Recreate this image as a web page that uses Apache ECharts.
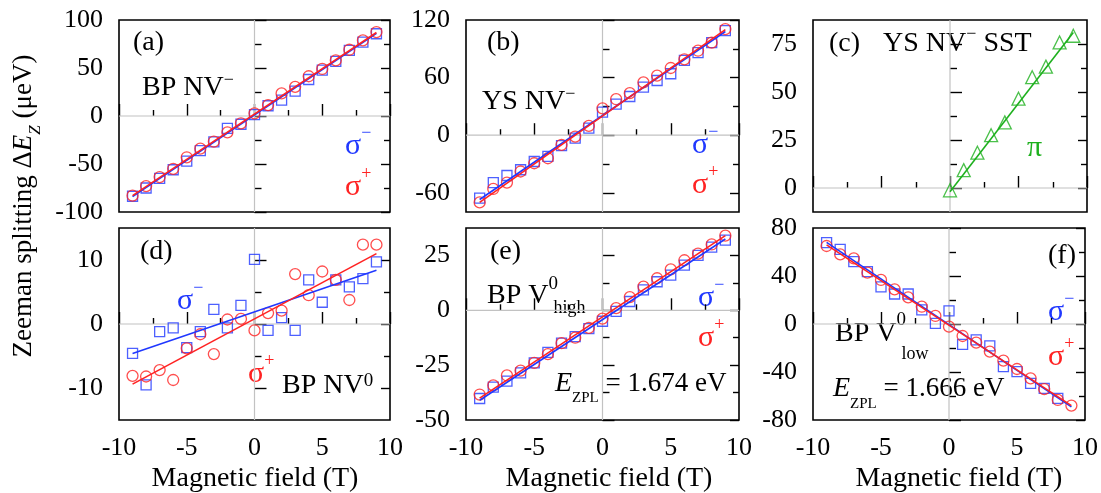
<!DOCTYPE html>
<html>
<head>
<meta charset="utf-8">
<script src="https://cdn.jsdelivr.net/npm/echarts@6/dist/echarts.min.js"></script>
<style>
  html, body { margin: 0; padding: 0; background: #fff; }
  #chart { width: 1101px; height: 493px; }
</style>
</head>
<body>
<div id="chart"></div>
<script>
// Magnetic field values (T)
const fieldT   = [-9, -8, -7, -6, -5, -4, -3, -2, -1, 0, 1, 2, 3, 4, 5, 6, 7, 8, 9];
const fieldTf  = [-9, -8, -7, -6, -5, -4, -3, -2, -1, 0, 1, 2, 3, 4, 5, 6, 7, 8];
const fieldPos = [0, 1, 2, 3, 4, 5, 6, 7, 8, 9];

// (a) BP NV-
const aMinus = [-83.6, -75, -65, -56, -47, -36, -27, -12.8, -8.6, 1.4, 10.7, 16.6, 26, 38, 47.7, 57, 68.4, 77, 85.7];
const aPlus  = [-83, -73, -63.6, -55, -43, -34, -26.6, -17, -7.6, 2.8, 11.4, 23.5, 30.4, 41.4, 49, 58, 69, 78.8, 87.4];
const aFitMinus = [[-9, -84], [9, 86]];
const aFitPlus  = [[-9, -83], [9, 87]];

// (b) YS NV-
const bMinus = [-65.6, -49.3, -42, -36, -27.4, -22, -10.8, -3, 7.3, 24, 32.3, 40.3, 50, 57, 64, 78, 86, 96.5, 109];
const bPlus  = [-70, -56, -49.3, -37.8, -29.2, -24, -10, -1.4, 9.7, 28, 37.5, 43.8, 55, 62, 70, 79, 88, 96.5, 110.5];
const bFitMinus = [[-9, -67], [9, 108]];
const bFitPlus  = [[-9, -70], [9, 110]];

// (c) YS NV- SST, pi line
const cPi = [-1.2, 9.3, 18.4, 27.5, 34.2, 46.5, 57.7, 63.2, 75.8, 79.3];
const cFitPi = [[0, -2], [9, 81]];

// (d) BP NV0
const dMinus = [-4.6, -9.5, -1.2, -0.6, -3.7, -1.2, 2.3, -0.6, 2.9, 10.1, -1.0, 1.0, -1.0, 6.9, 3.4, 6.9, 5.8, 7.1, 9.7];
const dPlus  = [-8.1, -8.2, -7.2, -8.75, -3.8, -1.6, -4.7, 0.7, 0.8, -1.0, 1.7, 2.1, 7.8, 4.5, 8.2, 6.9, 3.75, 12.4, 12.4];
const dFitMinus = [[-9, -4.6], [9, 8.4]];
const dFitPlus  = [[-9, -9.4], [9, 11.0]];

// (e) BP V0 high
const eMinus = [-40.2, -35, -32.3, -28.5, -24, -19.2, -15, -12, -8.4, -5, -0.5, 4, 9.3, 13, 16, 20.6, 25, 28.8, 32];
const ePlus  = [-38.4, -34.2, -29.7, -27.5, -24, -20, -15, -12.5, -8, -3.8, 1, 6, 10.8, 14.6, 18.6, 22.8, 25.8, 30, 34];
const eFitMinus = [[-9, -41], [9, 32.5]];
const eFitPlus  = [[-9, -40], [9, 34]];

// (f) BP V0 low
const fMinus = [67.8, 62.2, 52, 43.6, 31, 25, 25, 11.7, 0.5, 11, -17, -13.3, -18.3, -35.5, -39.7, -49.4, -53.6, -62];
const fPlus  = [65, 58, 54.7, 42.8, 36.7, 28.9, 22.2, 14.4, 6.7, -2.2, -10, -15.5, -23, -30.5, -37.5, -45.3, -54.2, -63.3, -68];
const fFitMinus = [[-9, 68], [9, -69]];
const fFitPlus  = [[-9, 66], [9, -68]];

// Axis ranges and tick positions
const xRange = [-10, 10];
const xMajor = [-10, -5, 0, 5, 10];
const xMinor = [-7.5, -2.5, 2.5, 7.5];
const yRanges = [[-100, 100], [-80, 120], [-12.5, 87.5], [-15, 15], [-50, 37.5], [-80, 80]];
const yMajor  = [[-100, -50, 0, 50, 100], [-60, 0, 60, 120], [0, 25, 50, 75], [-10, 0, 10], [-50, -25, 0, 25], [-80, -40, 0, 40, 80]];
const yMinor  = [[-75, -25, 25, 75], [-30, 30, 90], [12.5, 37.5, 62.5], [-5, 5], [-37.5, -12.5, 12.5], [-60, -20, 20, 60]];

const BLUE = '#2038ff', RED = '#ff2222', GREEN = '#1eb01e', GRAY = '#c2c2c2';
const FONT = '"Liberation Serif", "Times New Roman", serif';

const grids = [
  { left: 119, top: 20,  width: 271, height: 192 },
  { left: 466, top: 20,  width: 273, height: 192 },
  { left: 813, top: 20,  width: 274, height: 192 },
  { left: 119, top: 228, width: 271, height: 192 },
  { left: 466, top: 228, width: 273, height: 192 },
  { left: 813, top: 228, width: 274, height: 192 }
];

const pts = (xs, ys) => xs.map((x, k) => [x, ys[k]]);

const panels = [
  { sets: [ { sym: 'rect', c: BLUE, d: pts(fieldT, aMinus), fit: aFitMinus },
            { sym: 'circle', c: RED, d: pts(fieldT, aPlus), fit: aFitPlus } ] },
  { sets: [ { sym: 'rect', c: BLUE, d: pts(fieldT, bMinus), fit: bFitMinus },
            { sym: 'circle', c: RED, d: pts(fieldT, bPlus), fit: bFitPlus } ] },
  { sets: [ { sym: 'triangle', c: GREEN, d: pts(fieldPos, cPi), fit: cFitPi } ] },
  { sets: [ { sym: 'rect', c: BLUE, d: pts(fieldT, dMinus), fit: dFitMinus },
            { sym: 'circle', c: RED, d: pts(fieldT, dPlus), fit: dFitPlus } ] },
  { sets: [ { sym: 'rect', c: BLUE, d: pts(fieldT, eMinus), fit: eFitMinus },
            { sym: 'circle', c: RED, d: pts(fieldT, ePlus), fit: ePlus && eFitPlus } ] },
  { sets: [ { sym: 'rect', c: BLUE, d: pts(fieldTf, fMinus), fit: fFitMinus },
            { sym: 'circle', c: RED, d: pts(fieldT, fPlus), fit: fFitPlus } ] }
];

const tickStyle = { color: '#000', width: 1.4 };
const labelStyle = { color: '#000', fontFamily: 'Liberation Serif', fontSize: 26 };

const xAxes = [], yAxes = [], series = [];
grids.forEach((g, i) => {
  const bottomRow = i >= 3;
  const [ymin, ymax] = yRanges[i];
  const baseX = { gridIndex: i, type: 'value', min: xRange[0], max: xRange[1], position: 'bottom',
                  axisLine: { show: false }, splitLine: { show: false } };
  xAxes.push(Object.assign({}, baseX, {
    axisTick: { show: true, inside: true, length: 12, customValues: xMajor, lineStyle: tickStyle },
    axisLabel: Object.assign({ show: bottomRow, customValues: xMajor, margin: 15 }, labelStyle)
  }));
  xAxes.push(Object.assign({}, baseX, {
    axisTick: { show: true, inside: true, length: 6, customValues: xMinor, lineStyle: tickStyle },
    axisLabel: { show: false }
  }));
  const baseY = (pos) => ({ gridIndex: i, type: 'value', min: ymin, max: ymax, position: pos, offset: 0,
                            axisLine: { show: false }, splitLine: { show: false } });
  yAxes.push(Object.assign(baseY('left'), {
    axisTick: { show: true, inside: true, length: 12, customValues: yMajor[i], lineStyle: tickStyle },
    axisLabel: Object.assign({ show: true, customValues: yMajor[i], margin: 16 }, labelStyle)
  }));
  yAxes.push(Object.assign(baseY('left'), {
    axisTick: { show: true, inside: true, length: 7, customValues: yMinor[i], lineStyle: tickStyle },
    axisLabel: { show: false }
  }));
  yAxes.push(Object.assign(baseY('right'), {
    axisTick: { show: true, inside: true, length: 9, customValues: yMajor[i], lineStyle: tickStyle },
    axisLabel: { show: false }
  }));
  yAxes.push(Object.assign(baseY('right'), {
    axisTick: { show: true, inside: true, length: 6, customValues: yMinor[i], lineStyle: tickStyle },
    axisLabel: { show: false }
  }));

  const xi = 2 * i, yi = 4 * i;
  // zero reference lines
  series.push({ type: 'line', xAxisIndex: xi, yAxisIndex: yi, data: [[0, ymin], [0, ymax]],
                showSymbol: false, silent: true, z: 1, lineStyle: { color: GRAY, width: 1.2 } });
  series.push({ type: 'line', xAxisIndex: xi, yAxisIndex: yi, data: [[xRange[0], 0], [xRange[1], 0]],
                showSymbol: false, silent: true, z: 1, lineStyle: { color: GRAY, width: 1.2 } });
  const p = panels[i];
  p.sets.forEach((s) => {
    series.push({ type: 'scatter', xAxisIndex: xi, yAxisIndex: yi, data: s.d, z: 3, silent: true,
                  symbol: s.sym, symbolSize: s.sym === 'rect' ? 10 : (s.sym === 'triangle' ? 13 : 11),
                  itemStyle: { color: 'rgba(255,255,255,0)', borderColor: s.c, borderWidth: 1.3 } });
  });
  p.sets.forEach((s) => {
    series.push({ type: 'line', xAxisIndex: xi, yAxisIndex: yi, data: s.fit, z: 4, silent: true,
                  showSymbol: false, lineStyle: { color: s.c, width: 1.6 } });
  });
});

// text helpers
const ctx = document.createElement('canvas').getContext('2d');
function tw(t, s, it) { ctx.font = (it ? 'italic ' : '') + s + 'px ' + FONT; return ctx.measureText(t).width; }
function seq(x, base, parts, color) {
  const out = []; let cx = x;
  parts.forEach((p) => {
    const s = p.s || 28, it = !!p.it;
    const px = cx + (p.dx || 0);
    out.push({ type: 'text', x: px, y: base + (p.dy || 0) - 0.34 * s, silent: true,
               style: { text: p.t, fill: p.c || color || '#000', font: (it ? 'italic ' : '') + s + 'px ' + FONT,
                        textAlign: 'left', verticalAlign: 'middle' } });
    if (!p.stay) cx = px + tw(p.t, s, it);
  });
  return out;
}
function sigma(x, base, sign, c) {
  return seq(x, base, [{ t: 'σ', s: 30 }, { t: sign, s: 18, dy: -17 }], c);
}
function centered(cx, base, t, s) {
  return { type: 'text', x: cx, y: base - 0.34 * s, silent: true,
           style: { text: t, fill: '#000', font: s + 'px ' + FONT, textAlign: 'center', verticalAlign: 'middle' } };
}

const graphics = [].concat(
  // (a)
  seq(133, 52, [{ t: '(a)' }]),
  seq(142, 97, [{ t: 'BP NV' }, { t: '−', s: 18, dy: -11 }]),
  sigma(345, 156, '−', BLUE), sigma(345, 197, '+', RED),
  // (b)
  seq(487, 52, [{ t: '(b)' }]),
  seq(482, 111, [{ t: 'YS NV' }, { t: '−', s: 18, dy: -11 }]),
  sigma(692, 155, '−', BLUE), sigma(692, 195, '+', RED),
  // (c)
  seq(829, 53, [{ t: '(c)' }]),
  seq(883, 53, [{ t: 'YS NV' }, { t: '−', s: 18, dy: -13 }, { t: ' SST' }]),
  seq(1027, 158, [{ t: 'π', s: 30 }], GREEN),
  // (d)
  seq(140, 261, [{ t: '(d)' }]),
  sigma(177, 311, '−', BLUE), sigma(248, 384, '+', RED),
  seq(282, 395, [{ t: 'BP NV' }, { t: '0', s: 19, dy: -8 }]),
  // (e)
  seq(490, 261, [{ t: '(e)' }]),
  seq(487, 305, [{ t: 'BP V' }, { t: '0', s: 19, dy: -15, stay: true }, { t: 'high', s: 18, dy: 9, dx: 5 }]),
  sigma(698, 308, '−', BLUE), sigma(698, 348, '+', RED),
  seq(555, 393, [{ t: 'E', it: true }, { t: 'ZPL', s: 15, dy: 10 }, { t: ' = 1.674 eV', s: 27 }]),
  // (f)
  seq(1048, 265, [{ t: '(f)' }]),
  seq(835, 343, [{ t: 'BP V' }, { t: '0', s: 19, dy: -17, stay: true }, { t: 'low', s: 18, dy: 17, dx: 5 }]),
  sigma(1048, 322, '−', BLUE), sigma(1048, 367, '+', RED),
  seq(833, 398, [{ t: 'E', it: true }, { t: 'ZPL', s: 15, dy: 11 }, { t: ' = 1.666 eV', s: 27 }]),
  // x axis titles
  [centered(255, 488, 'Magnetic field (T)', 28), centered(609, 488, 'Magnetic field (T)', 28),
   centered(959, 488, 'Magnetic field (T)', 28)]
);

// rotated y-axis title
const yTitleParts = [{ t: 'Zeeman splitting Δ', s: 27 }, { t: 'E', s: 27, it: true },
                     { t: 'Z', s: 17, it: true, dy: 8 }, { t: ' (μeV)', s: 27 }];
const yTitleW = yTitleParts.reduce((acc, p) => acc + tw(p.t, p.s, p.it), 0);
graphics.push({ type: 'group', x: 33, y: 206, rotation: Math.PI / 2,
                children: seq(-yTitleW / 2, 0, yTitleParts) });

const chart = echarts.init(document.getElementById('chart'), null, { renderer: 'canvas' });
chart.setOption({
  animation: false,
  backgroundColor: '#fff',
  grid: grids.map((g) => Object.assign({ show: true, borderColor: '#000', borderWidth: 1.6,
                                         backgroundColor: 'transparent', containLabel: false }, g)),
  xAxis: xAxes,
  yAxis: yAxes,
  series: series,
  graphic: graphics
});
</script>
</body>
</html>
